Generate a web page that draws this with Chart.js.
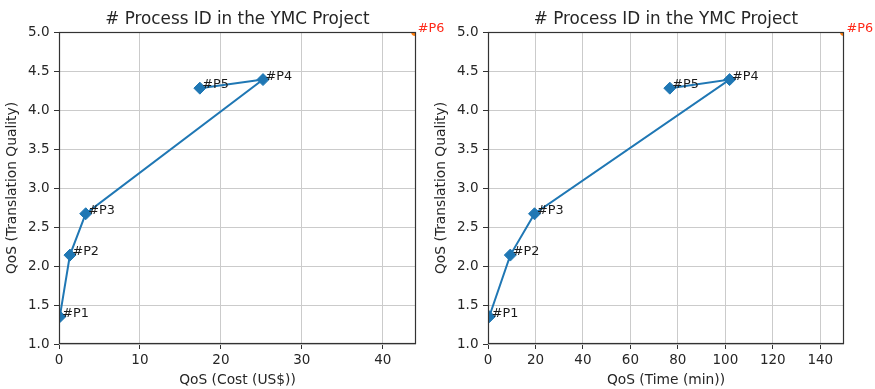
<!DOCTYPE html>
<html><head><meta charset="utf-8">
<script src="https://cdn.jsdelivr.net/npm/chart.js@4/dist/chart.umd.min.js"></script>
<style>
html,body{margin:0;padding:0;background:#fff;}
#wrap{position:relative;width:875px;height:389px;overflow:hidden;background:#fff;}
canvas{position:absolute;top:0;}
</style></head><body>
<div id="wrap">
<canvas id="c1" width="476" height="389" style="left:0px;width:476px;height:389px"></canvas>
<canvas id="c2" width="446" height="389" style="left:429px;width:446px;height:389px"></canvas>
</div>
<script>
// ---- data ----
const chartTitle = '# Process ID in the YMC Project';
const processLabels = ['#P1', '#P2', '#P3', '#P4', '#P5'];
const costValues = [0.1, 1.35, 3.3, 25.2, 17.4];
const timeValues = [0.5, 9.4, 19.6, 101.8, 76.6];
const qualityValues = [1.35, 2.14, 2.67, 4.39, 4.28];
const outlierLabels = ['#P6'];
const outlierCost = [44];
const outlierTime = [150];
const outlierQuality = [5.0];
const costTicks = [0, 10, 20, 30, 40];
const timeTicks = [0, 20, 40, 60, 80, 100, 120, 140];
const qualityTicks = [1.0, 1.5, 2.0, 2.5, 3.0, 3.5, 4.0, 4.5, 5.0];
const costAxisTitle = 'QoS (Cost (US$))';
const timeAxisTitle = 'QoS (Time (min))';
const qualityAxisTitle = 'QoS (Translation Quality)';

Chart.defaults.font.family = "'DejaVu Sans', sans-serif";
Chart.defaults.color = '#222';

const TXT = '#262626';
const TICK_FONT = {size: 13.5};
const LABEL_FONT = {size: 13.8};

const framePlugin = {
  id: 'frame',
  afterDatasetsDraw(chart) {
    const {ctx, chartArea: a} = chart;
    ctx.save();
    ctx.strokeStyle = '#333';
    ctx.lineWidth = 1.2;
    ctx.strokeRect(Math.round(a.left) + 0.5, Math.round(a.top) + 0.5,
      Math.round(a.right - a.left) - 1, Math.round(a.bottom - a.top) - 1);
    ctx.restore();
  }
};

const labelPlugin = {
  id: 'pointLabels',
  afterDraw(chart) {
    const {ctx} = chart;
    ctx.save();
    ctx.font = "12.8px 'DejaVu Sans', sans-serif";
    ctx.textAlign = 'left';
    ctx.textBaseline = 'alphabetic';
    chart.data.datasets.forEach((ds, i) => {
      const meta = chart.getDatasetMeta(i);
      ctx.fillStyle = ds.labelColor;
      meta.data.forEach((pt, j) => {
        ctx.fillText(ds.pointNames[j], pt.x + 2.5, pt.y);
      });
    });
    ctx.restore();
  }
};

function makeChart(id, xVals, xMax, xTicks, xTitle, outX, padRight) {
  const mainData = xVals.map((x, i) => ({x: x, y: qualityValues[i]}));
  const outData = outX.map((x, i) => ({x: x, y: outlierQuality[i]}));
  return new Chart(document.getElementById(id), {
    type: 'scatter',
    data: {
      datasets: [
        {
          data: mainData,
          pointNames: processLabels,
          labelColor: '#1a1a1a',
          showLine: true,
          borderColor: '#1f77b4',
          backgroundColor: '#1f77b4',
          borderWidth: 2,
          pointStyle: 'rectRot',
          pointRadius: 6,
          pointBorderWidth: 1,
          pointBorderColor: '#1f77b4',
          pointBackgroundColor: '#1f77b4',
          clip: 0,
          tension: 0
        },
        {
          data: outData,
          pointNames: outlierLabels,
          labelColor: '#ff2a1a',
          showLine: false,
          borderColor: '#ff7f0e',
          backgroundColor: '#ff7f0e',
          pointRadius: 4,
          pointBorderWidth: 0,
          clip: 0
        }
      ]
    },
    options: {
      responsive: false,
      animation: false,
      devicePixelRatio: 1,
      layout: {padding: {left: 0, right: padRight, top: 0, bottom: 0}},
      plugins: {
        legend: {display: false},
        tooltip: {enabled: false},
        title: {
          display: true,
          fullSize: false,
          text: chartTitle,
          color: TXT,
          font: {size: 16.8, weight: 'normal'},
          padding: {top: 9.5, bottom: 2.34}
        }
      },
      scales: {
        x: {
          type: 'linear',
          min: 0,
          max: xMax,
          afterBuildTicks: s => { s.ticks = xTicks.map(v => ({value: v})); },
          afterFit: s => { s.height = 45; },
          ticks: {font: TICK_FONT, color: TXT, padding: 3, maxRotation: 0, autoSkip: false},
          grid: {color: '#cbcbcb', lineWidth: 1, tickColor: '#333', tickLength: 5, drawTicks: true},
          border: {display: false},
          title: {display: true, text: xTitle, color: TXT, font: LABEL_FONT, padding: {top: 0, bottom: 0.5}}
        },
        y: {
          type: 'linear',
          min: 1,
          max: 5,
          afterBuildTicks: s => { s.ticks = qualityTicks.map(v => ({value: v})); },
          afterFit: s => { s.width = 59; },
          ticks: {font: TICK_FONT, color: TXT, padding: 4.5, autoSkip: false, callback: v => Number(v).toFixed(1)},
          grid: {color: '#cbcbcb', lineWidth: 1, tickColor: '#333', tickLength: 5, drawTicks: true},
          border: {display: false},
          title: {display: true, text: qualityAxisTitle, color: TXT, font: LABEL_FONT, padding: {top: 4.2, bottom: 0}}
        }
      }
    },
    plugins: [framePlugin, labelPlugin]
  });
}

// left: canvas 0..476, plot 59..416
makeChart('c1', costValues, 44.1, costTicks, costAxisTitle, outlierCost, 60);
// right: canvas 429..875, plot 488..844
makeChart('c2', timeValues, 150, timeTicks, timeAxisTitle, outlierTime, 31);
</script>
</body></html>
